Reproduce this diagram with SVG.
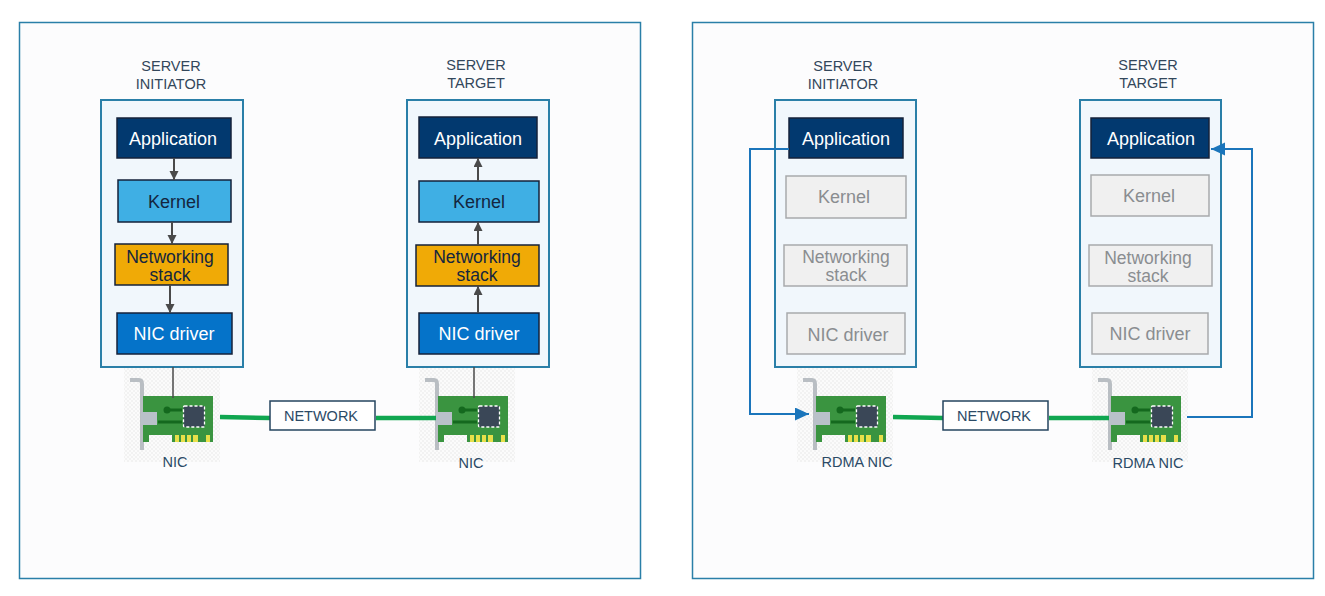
<svg xmlns="http://www.w3.org/2000/svg" width="1325" height="596" viewBox="0 0 1325 596">
<style>
text{font-family:"Liberation Sans",Arial,sans-serif;text-anchor:middle}
.panel{fill:#fcfcfd;stroke:#2a7fa8;stroke-width:1.5}
.server{fill:#f1f7fc;stroke:#2a7fa8;stroke-width:2}
.cap{font-size:14.500px;fill:#33475b}
.nl{font-size:14.500px;fill:#2b4a66}
.b{stroke:#14223a;stroke-width:1.500}
.lbl{font-size:18px;fill:#fff}
.dk{font-size:18px;fill:#14263f}
.st{font-size:17.500px;fill:#14263f}
.app{fill:#02396f}.ker{fill:#3fafe4}.net{fill:#f0aa06}.drv{fill:#0573c9}
.gr{fill:#f0f0f0;stroke:#a8aaac;stroke-width:1.500}
.gt{font-size:18px;fill:#8a8d90}
.gs{font-size:17.500px;fill:#8a8d90}
.arrow{stroke:#4a4a4a;stroke-width:2;fill:none;marker-end:url(#ga)}
.plain{stroke:#4a4a4a;stroke-width:1.500;fill:none}
.blue{stroke:#1b75bb;stroke-width:2;fill:none}
.wire{stroke:#10a650;stroke-width:4.500;fill:none}
.netbox{fill:#fff;stroke:#24445f;stroke-width:1.500}
</style>
<defs>
<marker id="ga" markerWidth="10" markerHeight="10" refX="9" refY="4.500" orient="auto" markerUnits="userSpaceOnUse"><path d="M0 0L9 4.500L0 9Z" fill="#4a4a4a"/></marker>
<marker id="ba" markerWidth="15" markerHeight="14" refX="14" refY="6.500" orient="auto" markerUnits="userSpaceOnUse"><path d="M0 0L14 6.500L0 13Z" fill="#1b75bb"/></marker>
<pattern id="chk" width="4" height="4" patternUnits="userSpaceOnUse"><rect width="4" height="4" fill="#fbfbfb"/><rect width="2" height="2" fill="#f2f2f2"/><rect x="2" y="2" width="2" height="2" fill="#f2f2f2"/></pattern>
<g id="nic">
<rect x="-19" y="-28" width="96" height="94" fill="url(#chk)"/>
<path d="M-13 -16H-4Q-1 -16 -1 -12V54" fill="none" stroke="#b9bec3" stroke-width="4"/>
<path d="M0 0H70V46H29V39H6V46H0Z" fill="#3a9440"/>
<rect x="-2" y="16" width="16" height="13" fill="#b9c1c9"/>
<path d="M15 26H39M24 14H39" stroke="#14691e" stroke-width="3"/>
<circle cx="24" cy="14" r="3.500" fill="#14691e"/>
<rect x="40.500" y="10" width="21" height="21" rx="1" fill="#3a4757" stroke="#fff" stroke-width="1.300" stroke-dasharray="3 2"/>
<path d="M32 39h4v7h-4zM38 39h4v7h-4zM44 39h4v7h-4zM50 39h5v7h-5zM63 39h4v7h-4z" fill="#e8e04a"/>
</g>
</defs>
<rect width="1325" height="596" fill="#fff"/>
<rect class="panel" x="19.500" y="22.500" width="621" height="556"/>
<rect class="panel" x="692.500" y="22.500" width="621" height="556"/>

<g id="left-initiator">
<rect class="server" x="101" y="100" width="142" height="267"/>
<text class="cap" x="171" y="71">SERVER</text><text class="cap" x="171" y="89">INITIATOR</text>
</g>
<g id="left-initiator-app"><rect class="app b" x="117" y="118" width="114" height="40"/><text class="lbl" x="173" y="145">Application</text></g>
<g id="left-initiator-kernel"><rect class="ker b" x="118" y="180" width="113" height="42"/><text class="dk" x="174" y="208">Kernel</text></g>
<g id="left-initiator-stack"><rect class="net b" x="115" y="244" width="113" height="41"/><text class="st" x="170" y="263">Networking</text><text class="st" x="170" y="281">stack</text></g>
<g id="left-initiator-driver"><rect class="drv b" x="117" y="313" width="115" height="41"/><text class="lbl" x="174" y="340">NIC driver</text></g>

<g id="left-target">
<rect class="server" x="407" y="100" width="142" height="267"/>
<text class="cap" x="476" y="70">SERVER</text><text class="cap" x="476" y="88">TARGET</text>
</g>
<g id="left-target-app"><rect class="app b" x="419" y="117" width="118" height="41"/><text class="lbl" x="478" y="145">Application</text></g>
<g id="left-target-kernel"><rect class="ker b" x="419" y="181" width="120" height="41"/><text class="dk" x="479" y="208">Kernel</text></g>
<g id="left-target-stack"><rect class="net b" x="416" y="245" width="123" height="41"/><text class="st" x="477" y="263">Networking</text><text class="st" x="477" y="281">stack</text></g>
<g id="left-target-driver"><rect class="drv b" x="419" y="313" width="120" height="41"/><text class="lbl" x="479" y="340">NIC driver</text></g>

<g id="right-initiator">
<rect class="server" x="775" y="100" width="141" height="267"/>
<text class="cap" x="843" y="71">SERVER</text><text class="cap" x="843" y="89">INITIATOR</text>
</g>
<g id="right-initiator-app"><rect class="app b" x="789" y="118" width="114" height="40"/><text class="lbl" x="846" y="145">Application</text></g>
<g id="right-initiator-kernel"><rect class="gr" x="786" y="176" width="120" height="42"/><text class="gt" x="844" y="203">Kernel</text></g>
<g id="right-initiator-stack"><rect class="gr" x="784" y="245" width="123" height="41"/><text class="gs" x="846" y="263">Networking</text><text class="gs" x="846" y="281">stack</text></g>
<g id="right-initiator-driver"><rect class="gr" x="787" y="313" width="118" height="41"/><text class="gt" x="848" y="341">NIC driver</text></g>

<g id="right-target">
<rect class="server" x="1080" y="100" width="141" height="267"/>
<text class="cap" x="1148" y="70">SERVER</text><text class="cap" x="1148" y="88">TARGET</text>
</g>
<g id="right-target-app"><rect class="app b" x="1091" y="118" width="118" height="40"/><text class="lbl" x="1151" y="145">Application</text></g>
<g id="right-target-kernel"><rect class="gr" x="1091" y="175" width="118" height="41"/><text class="gt" x="1149" y="202">Kernel</text></g>
<g id="right-target-stack"><rect class="gr" x="1089" y="245" width="123" height="41"/><text class="gs" x="1148" y="264">Networking</text><text class="gs" x="1148" y="282">stack</text></g>
<g id="right-target-driver"><rect class="gr" x="1092" y="313" width="116" height="41"/><text class="gt" x="1150" y="340">NIC driver</text></g>

<g id="nic-1"><use href="#nic" x="143" y="396"/><text class="nl" x="175" y="467">NIC</text></g>
<g id="nic-2"><use href="#nic" x="438" y="396"/><text class="nl" x="471" y="468">NIC</text></g>
<g id="nic-3"><use href="#nic" x="816" y="396"/><text class="nl" x="857" y="467">RDMA NIC</text></g>
<g id="nic-4"><use href="#nic" x="1111" y="396"/><text class="nl" x="1148" y="468">RDMA NIC</text></g>

<g id="connectors">
<path class="arrow" d="M174 158V180"/>
<path class="arrow" d="M172 222V244"/>
<path class="arrow" d="M170 285V313"/>
<path class="plain" d="M173 367V398"/>
<path class="arrow" d="M478 181V158"/>
<path class="arrow" d="M478 245V222"/>
<path class="arrow" d="M478 313V286"/>
<path class="plain" d="M474 367V398"/>
<path class="wire" d="M220 417L270 418"/>
<path class="wire" d="M376 418H436"/>
<path class="wire" d="M893 417L943 418"/>
<path class="wire" d="M1049 418H1109"/>
<path class="blue" d="M789 149H750V414H809" marker-end="url(#ba)"/>
<path class="blue" d="M1187 417H1252V149H1211" marker-end="url(#ba)"/>
</g>
<g id="network-1"><rect class="netbox" x="270" y="401" width="105" height="29"/><text class="nl" x="321" y="421">NETWORK</text></g>
<g id="network-2"><rect class="netbox" x="943" y="401" width="105" height="29"/><text class="nl" x="994" y="421">NETWORK</text></g>
</svg>
